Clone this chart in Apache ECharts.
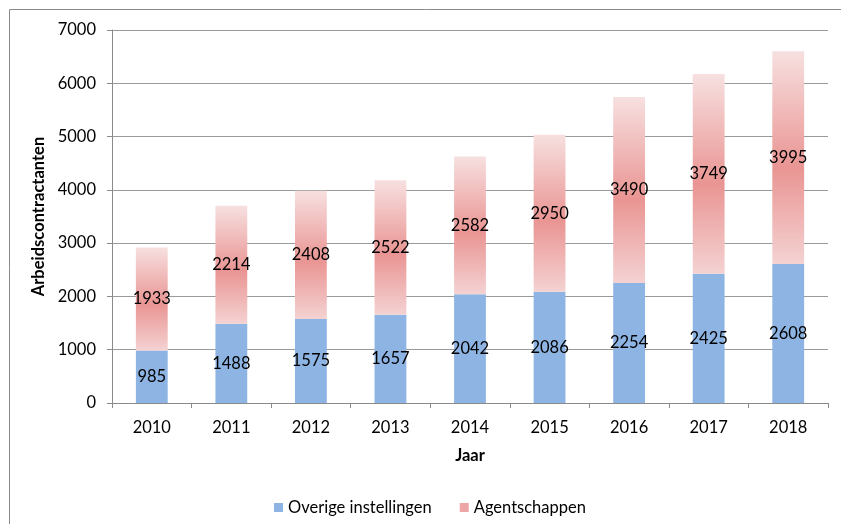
<!DOCTYPE html>
<html><head><meta charset="utf-8">
<script src="https://cdn.jsdelivr.net/npm/echarts@6/dist/echarts.min.js"></script>
<style>html,body{margin:0;padding:0;background:#fff}#c{width:841px;height:524px}</style>
</head><body><div id="c"></div>
<script>
const categories = ['2010','2011','2012','2013','2014','2015','2016','2017','2018'];
const overige = [985,1488,1575,1657,2042,2086,2254,2425,2608];
const agentschappen = [1933,2214,2408,2522,2582,2950,3490,3749,3995];
const seriesNames = ['Overige instellingen','Agentschappen'];
const yTicks = {min:0,max:7000,interval:1000};

const font = 'Lato, "Open Sans", sans-serif';
const fs = 16.5;
const chart = echarts.init(document.getElementById('c'));
const redGrad = new echarts.graphic.LinearGradient(0,0,0,1,[
  {offset:0,color:'#f7e0e0'},
  {offset:0.55,color:'#e99593'},
  {offset:1,color:'#f4d2d2'}
]);
chart.setOption({
  animation:false,
  graphic:[{type:'rect',shape:{x:9.5,y:9.5,width:840,height:520},style:{fill:'none',stroke:'#8a8a8a',lineWidth:1},z:-1}],
  grid:{left:112,right:13,top:30,bottom:121,containLabel:false},
  legend:{bottom:3,left:269,itemWidth:9,itemHeight:9,itemGap:28,icon:'rect',
    textStyle:{fontFamily:font,fontSize:fs,color:'#000'},
    data:[{name:seriesNames[0],itemStyle:{color:'#8eb4e3'}},{name:seriesNames[1],itemStyle:{color:'#eea5a5'}}]},
  xAxis:{type:'category',data:categories,name:'Jaar',nameLocation:'middle',nameGap:44,
    nameTextStyle:{fontFamily:font,fontSize:fs,fontWeight:'bold',color:'#000'},
    axisLine:{lineStyle:{color:'#8a8a8a'}},
    axisTick:{show:true,length:5,lineStyle:{color:'#8a8a8a'}},
    axisLabel:{fontFamily:font,fontSize:fs,color:'#000',margin:16}},
  yAxis:{type:'value',min:yTicks.min,max:yTicks.max,interval:yTicks.interval,
    name:'Arbeidscontractanten',nameLocation:'middle',nameGap:55,
    nameTextStyle:{fontFamily:font,fontSize:fs,fontWeight:'bold',color:'#000'},
    axisLine:{show:true,lineStyle:{color:'#8a8a8a'}},
    axisTick:{show:true,length:5,lineStyle:{color:'#8a8a8a'}},
    splitLine:{lineStyle:{color:'#9a9a9a',width:1}},
    axisLabel:{fontFamily:font,fontSize:fs,color:'#000',margin:16,formatter:v=>String(v)}},
  series:[
    {name:seriesNames[0],type:'bar',stack:'t',data:overige,barWidth:'40%',
     itemStyle:{color:'#8eb4e3'},
     label:{show:true,position:'inside',fontFamily:font,fontSize:fs,color:'#000'}},
    {name:seriesNames[1],type:'bar',stack:'t',data:agentschappen,barWidth:'40%',
     itemStyle:{color:redGrad},
     label:{show:true,position:'inside',fontFamily:font,fontSize:fs,color:'#000'}}
  ]
});
</script></body></html>
